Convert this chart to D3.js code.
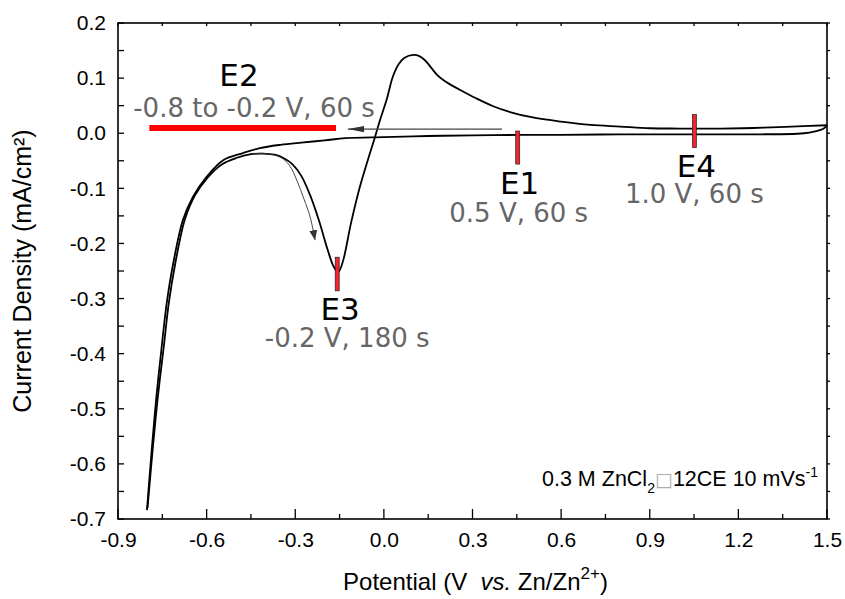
<!DOCTYPE html>
<html><head><meta charset="utf-8">
<script src="https://cdn.jsdelivr.net/npm/d3@7"></script>
<style>body{margin:0;background:#fff}svg{display:block}</style>
</head><body>
<svg id="c" width="845" height="599"></svg>
<script>
// ---- data ----
const xTicks = [-0.9, -0.6, -0.3, 0.0, 0.3, 0.6, 0.9, 1.2, 1.5];
const yTicks = [0.2, 0.1, 0.0, -0.1, -0.2, -0.3, -0.4, -0.5, -0.6, -0.7];
// anodic sweep: from -0.8 V up through the dip, stripping peak, to 1.5 V
const anodicE = [-0.80,-0.782,-0.765,-0.745,-0.728,-0.706,-0.674,-0.64,-0.596,-0.55,-0.50,-0.45,-0.41,-0.37,-0.34,-0.31,-0.28,-0.25,-0.22,-0.19,-0.17,-0.155,-0.14,-0.11,-0.08,-0.055,-0.03,-0.013,0.01,0.03,0.05,0.07,0.10,0.12,0.14,0.16,0.18,0.20,0.22,0.26,0.31,0.37,0.43,0.50,0.60,0.70,0.80,0.90,1.00,1.14,1.25,1.36,1.50];
const anodicI = [-0.68,-0.57,-0.478,-0.387,-0.308,-0.236,-0.157,-0.113,-0.08,-0.057,-0.045,-0.038,-0.037,-0.039,-0.045,-0.056,-0.077,-0.112,-0.158,-0.212,-0.242,-0.252,-0.235,-0.16,-0.095,-0.05,-0.007,0.024,0.062,0.102,0.125,0.137,0.142,0.140,0.132,0.119,0.106,0.097,0.090,0.078,0.064,0.049,0.038,0.029,0.021,0.015,0.012,0.009,0.0085,0.0085,0.0095,0.0115,0.0145];
// cathodic sweep: from 1.5 V back to -0.8 V
const cathodicE = [1.50,1.49,1.476,1.44,1.40,1.25,1.00,0.80,0.60,0.46,0.30,0.15,0.00,-0.13,-0.20,-0.28,-0.35,-0.42,-0.477,-0.544,-0.60,-0.646,-0.68,-0.713,-0.735,-0.752,-0.77,-0.785,-0.802];
const cathodicI = [0.0145,0.009,0.0055,0.001,-0.001,-0.002,-0.002,-0.002,-0.003,-0.003,-0.004,-0.005,-0.007,-0.009,-0.013,-0.017,-0.021,-0.027,-0.036,-0.049,-0.079,-0.115,-0.157,-0.236,-0.308,-0.387,-0.478,-0.569,-0.684];
// thin direction arrow into the dip
const dipArrowE = [-0.443,-0.40,-0.352,-0.32,-0.295,-0.27,-0.25,-0.233];
const dipArrowI = [-0.037,-0.037,-0.043,-0.058,-0.085,-0.12,-0.151,-0.194];
// annotations: step potentials
const markNames = ["E1","E3","E4"];
const markE = [0.453, -0.158, 1.051];
const markTop = [0.004, -0.225, 0.034];
const markBot = [-0.056, -0.286, -0.026];
const markSub = ["0.5 V, 60 s", "-0.2 V, 180 s", "1.0 V, 60 s"];
const e2Range = [-0.794, -0.162];
const e2Level = 0.0095;
const sweepArrow = [0.40, -0.122, 0.0075];

// ---- layout ----
const svg = d3.select("#c");
const L = 118, R = 827, T = 23, B = 519;
const x = d3.scaleLinear().domain([-0.9, 1.5]).range([L, R]);
const y = d3.scaleLinear().domain([-0.7, 0.2]).range([B, T]);
const fmt = d => (+d).toFixed(1);
const axisFont = "'Liberation Sans', Arial, sans-serif";
const annFont = "'DejaVu Sans', Verdana, sans-serif";

// ticks
const xMinor = d3.range(-0.9, 1.5001, 0.15);
const yAll = d3.range(-0.7, 0.2001, 0.05);
const tg = svg.append("g").attr("stroke","#000").attr("stroke-width",1.3);
xMinor.forEach((v,i)=>{
  const maj = i%2===0;
  tg.append("line").attr("x1",x(v)).attr("x2",x(v)).attr("y1",B).attr("y2",B-(maj?10:5));
  tg.append("line").attr("x1",x(v)).attr("x2",x(v)).attr("y1",T).attr("y2",T+3);
});
yAll.forEach(v=>{
  tg.append("line").attr("x1",L).attr("x2",L+6).attr("y1",y(v)).attr("y2",y(v));
  tg.append("line").attr("x1",R).attr("x2",R+3).attr("y1",y(v)).attr("y2",y(v));
});
// tick labels through d3 axes
const xa = svg.append("g").attr("transform",`translate(0,${B})`)
  .call(d3.axisBottom(x).tickValues(xTicks).tickSize(0).tickPadding(13).tickFormat(fmt));
xa.select(".domain").remove();
xa.selectAll("text").attr("font-family",axisFont).attr("font-size",21).attr("fill","#000");
const ya = svg.append("g").attr("transform",`translate(${L},0)`)
  .call(d3.axisLeft(y).tickValues(yTicks).tickSize(0).tickPadding(12).tickFormat(fmt));
ya.select(".domain").remove();
ya.selectAll("text").attr("font-family",axisFont).attr("font-size",21).attr("fill","#000");

// frame
svg.append("rect").attr("x",L).attr("y",T).attr("width",R-L).attr("height",B-T)
  .attr("fill","none").attr("stroke","#000").attr("stroke-width",1.6);

// axis titles
svg.append("text").attr("transform",`translate(31,${(T+B)/2}) rotate(-90)`)
  .attr("text-anchor","middle").attr("font-family",axisFont).attr("font-size",25)
  .text("Current Density (mA/cm²)");
const xt = svg.append("text").attr("x",(L+R)/2+3).attr("y",590).attr("text-anchor","middle")
  .attr("font-family",axisFont).attr("font-size",24);
xt.append("tspan").text("Potential (V\u00A0 ");
xt.append("tspan").attr("font-style","italic").text("vs.");
xt.append("tspan").text(" Zn/Zn");
xt.append("tspan").attr("font-size",17).attr("dy",-11).text("2+");
xt.append("tspan").attr("dy",11).text(")");

// curve
const line = d3.line().x(d=>x(d[0])).y(d=>y(d[1])).curve(d3.curveCatmullRom.alpha(0.5));
const anodic = anodicE.map((e,i)=>[e,anodicI[i]]);
const cathodic = cathodicE.map((e,i)=>[e,cathodicI[i]]);
svg.append("path").datum(anodic).attr("d",line).attr("fill","none").attr("stroke","#000").attr("stroke-width",1.8);
svg.append("path").datum(cathodic).attr("d",line).attr("fill","none").attr("stroke","#000").attr("stroke-width",1.8);

// arrowheads
const defs = svg.append("defs");
defs.append("marker").attr("id","ah").attr("viewBox","0 0 10 10").attr("refX",10).attr("refY",5)
  .attr("markerWidth",10).attr("markerHeight",10).attr("markerUnits","userSpaceOnUse").attr("orient","auto")
  .append("path").attr("d","M0,1 L10,5 L0,9 Z").attr("fill","#333");
defs.append("marker").attr("id","ah2").attr("viewBox","0 0 18 10").attr("refX",18).attr("refY",5)
  .attr("markerWidth",18).attr("markerHeight",9).attr("markerUnits","userSpaceOnUse").attr("orient","auto")
  .append("path").attr("d","M0,1.5 L18,5 L0,8.5 Z").attr("fill","#333");
const dip = dipArrowE.map((e,i)=>[e,dipArrowI[i]]);
svg.append("path").datum(dip).attr("d",line).attr("fill","none").attr("stroke","#333").attr("stroke-width",0.9)
  .attr("marker-end","url(#ah)");
svg.append("line").attr("x1",x(sweepArrow[0])).attr("x2",x(sweepArrow[1])).attr("y1",y(sweepArrow[2])).attr("y2",y(sweepArrow[2]))
  .attr("stroke","#444").attr("stroke-width",1.1).attr("marker-end","url(#ah2)");

// E2 bar
svg.append("line").attr("x1",x(e2Range[0])).attr("x2",x(e2Range[1])).attr("y1",y(e2Level)).attr("y2",y(e2Level))
  .attr("stroke","#ff0000").attr("stroke-width",6);
svg.append("text").attr("x",239).attr("y",86).attr("text-anchor","middle")
  .attr("font-family",annFont).attr("font-size",31).attr("fill","#000").text("E2");
svg.append("text").attr("x",254).attr("y",117).attr("text-anchor","middle")
  .attr("font-family",annFont).attr("font-size",26).attr("fill","#666").text("-0.8 to -0.2 V, 60 s");

// E1, E3, E4 markers
const nameY = [194, 320, 177], subY = [222, 347, 203], nameDx = [2, 3, 2], subDx = [1, 10, 0];
markNames.forEach((n,i)=>{
  svg.append("rect").attr("x",x(markE[i])-2).attr("y",y(markTop[i])).attr("width",4)
    .attr("height",y(markBot[i])-y(markTop[i])).attr("fill","#f2232b").attr("stroke","#222").attr("stroke-width",0.7);
  svg.append("text").attr("x",x(markE[i])+nameDx[i]).attr("y",nameY[i]).attr("text-anchor","middle")
    .attr("font-family",annFont).attr("font-size",31).attr("fill","#000").text(n);
  svg.append("text").attr("x",x(markE[i])+subDx[i]).attr("y",subY[i]).attr("text-anchor","middle")
    .attr("font-family",annFont).attr("font-size",26).attr("fill","#666").text(markSub[i]);
});

// condition label
const cl = svg.append("text").attr("x",818).attr("y",486).attr("text-anchor","end")
  .attr("font-family",axisFont).attr("font-size",21.5).attr("fill","#000");
cl.append("tspan").text("0.3 M ZnCl");
cl.append("tspan").attr("font-size",14).attr("dy",7).text("2");
cl.append("tspan").attr("dy",-7).attr("fill","#aaa").attr("font-family",annFont).attr("font-size",19).text("□");
cl.append("tspan").text("12CE 10 mVs");
cl.append("tspan").attr("font-size",14).attr("dy",-9).text("-1");
</script>
</body></html>
